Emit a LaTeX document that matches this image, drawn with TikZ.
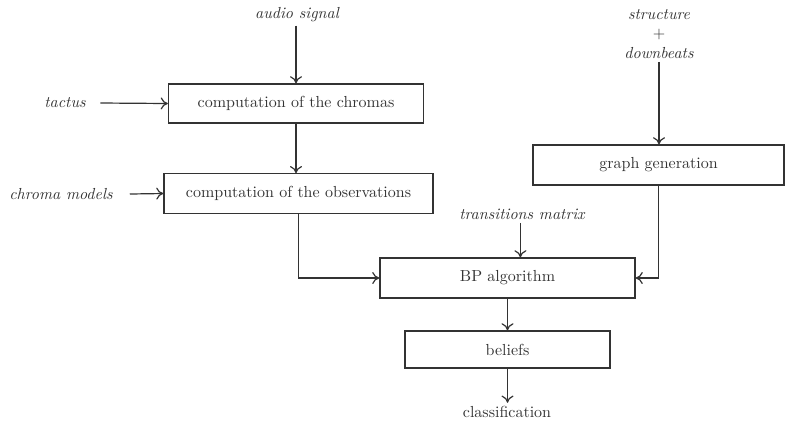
\documentclass[tikz,border=0pt]{standalone}
\usetikzlibrary{arrows.meta}
\begin{document}
\begin{tikzpicture}[x=0.625pt,y=-0.625pt,
  every node/.style={text=black!80},
  box/.style={draw=black!80, line width=0.75pt, rectangle, inner sep=0pt, font=\normalsize},
  inp/.style={font=\itshape, inner sep=2pt},
  conn/.style={draw=black!80, line width=0.75pt, -{To[length=4.5pt,width=7.5pt]}}]
\useasboundingbox (0,0) rectangle (785,426);

% boxes
\node[box, minimum width=159.4pt, minimum height=24.4pt] (chromas) at (296,103.5) {computation of the chromas};
\node[box, minimum width=168.1pt, minimum height=24.6pt] (obs) at (298.5,193.5) {computation of the observations};
\node[box, minimum width=156.9pt, minimum height=25pt] (graph) at (658.5,165) {graph generation};
\node[box, minimum width=159.4pt, minimum height=25pt] (bp) at (507.5,278) {BP algorithm};
\node[box, minimum width=128.1pt, minimum height=23.1pt] (beliefs) at (507.5,349.5) {beliefs};

% inputs / outputs
\node[inp] (audio) at (297,15) {audio signal};
\node[inp] (tactus) at (65,103) {tactus};
\node[inp] (cmodels) at (61,194) {chroma models};
\node[inp, align=center] (struct) at (659,34) {structure\\ $+$\\ downbeats};
\node[inp] (trans) at (522,214) {transitions matrix};
\node[inner sep=2pt] (class) at (507,412) {classification};

% helper coordinates
\path (tactus.east) ++(7pt,0) coordinate (t0);
\path (cmodels.east) ++(8.5pt,0) coordinate (c0);
\path (trans.south) ++(-1pt,0) coordinate (tr0);

% connectors
\draw[conn] (audio.south -| chromas.north) -- (chromas.north);
\draw[conn] (t0) -- (chromas.west);
\draw[conn] (c0) -- (obs.west);
\draw[conn] (chromas.south) -- (chromas.south |- obs.north);
\draw[conn] (struct.south) -- (struct.south |- graph.north);
\draw[conn] (tr0) -- (tr0 |- bp.north);
\draw[conn] (obs.south) -- (obs.south |- bp.west) -- (bp.west);
\draw[conn] (graph.south) -- (graph.south |- bp.east) -- (bp.east);
\draw[conn] (bp.south) -- (beliefs.north);
\draw[conn] (beliefs.south) -- (beliefs.south |- class.north);
\end{tikzpicture}
\end{document}
